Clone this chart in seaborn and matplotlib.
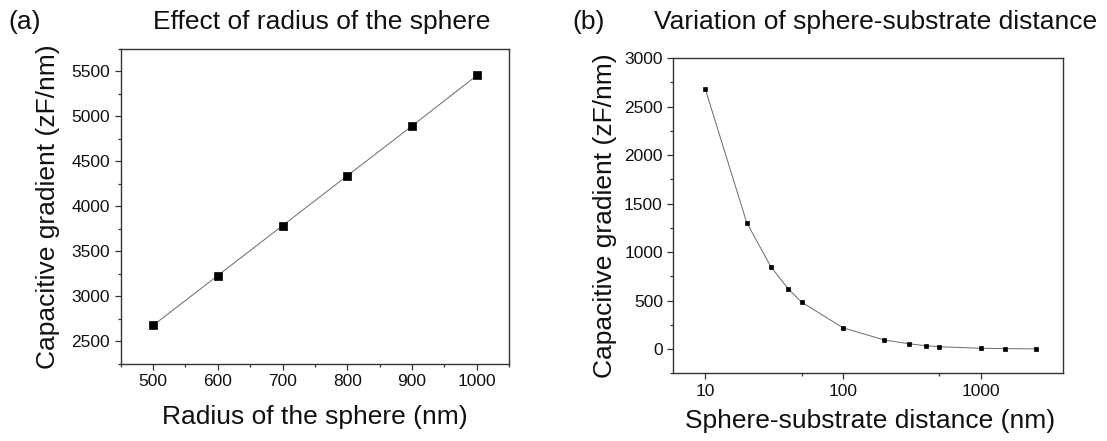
import matplotlib
matplotlib.use("Agg")
import matplotlib.pyplot as plt
from matplotlib.ticker import MultipleLocator, FixedLocator, FuncFormatter, NullFormatter
import seaborn as sns
import pandas as pd

# Panel (a): capacitive gradient versus sphere radius
radius_nm = [500, 600, 700, 800, 900, 1000]
grad_radius = [2678, 3232, 3786, 4340, 4893, 5453]

# Panel (b): capacitive gradient versus sphere-substrate distance
distance_nm = [10, 20, 30, 40, 50, 100, 200, 300, 400, 500, 1000, 1500, 2500]
grad_distance = [2682, 1303, 847, 621, 484, 219, 93, 55, 34, 24, 8, 4, 2]

x_ticks_b = [10, 100, 1000]
x_minor_b = [50, 500]

sns.set_theme(style="ticks")
plt.rcParams["font.family"] = ["Liberation Sans", "DejaVu Sans"]

text_color = "#111111"
spine_color = "#333333"
line_color = "#6a6a6a"
tick_fs = 12.5
label_fs = 19
title_fs = 19

fig = plt.figure(figsize=(11.07, 4.41), dpi=100)
ax_a = fig.add_axes([0.109, 0.1746, 0.351, 0.715])
ax_b = fig.add_axes([0.6082, 0.1535, 0.352, 0.715])

df_a = pd.DataFrame({"radius": radius_nm, "grad": grad_radius})
df_b = pd.DataFrame({"distance": distance_nm, "grad": grad_distance})

sns.lineplot(data=df_a, x="radius", y="grad", ax=ax_a, color=line_color, lw=0.7,
             marker="s", markersize=5.2, markerfacecolor="black",
             markeredgecolor="black", markeredgewidth=0.5)
sns.lineplot(data=df_b, x="distance", y="grad", ax=ax_b, color=line_color, lw=0.7,
             marker="s", markersize=2.8, markerfacecolor="black",
             markeredgecolor="black", markeredgewidth=0.5)

# Axis (a)
ax_a.set_xlim(450, 1050)
ax_a.set_ylim(2250, 5750)
ax_a.xaxis.set_major_locator(MultipleLocator(100))
ax_a.xaxis.set_minor_locator(MultipleLocator(50))
ax_a.yaxis.set_major_locator(MultipleLocator(500))
ax_a.yaxis.set_minor_locator(MultipleLocator(250))

# Axis (b)
ax_b.set_xscale("log")
ax_b.set_xlim(5.86, 3950)
ax_b.set_ylim(-250, 3000)
ax_b.xaxis.set_major_locator(FixedLocator(x_ticks_b))
ax_b.xaxis.set_minor_locator(FixedLocator(x_minor_b))
ax_b.xaxis.set_major_formatter(FuncFormatter(lambda v, p: f"{v:g}"))
ax_b.xaxis.set_minor_formatter(NullFormatter())
ax_b.yaxis.set_major_locator(MultipleLocator(500))
ax_b.yaxis.set_minor_locator(MultipleLocator(250))

for ax in (ax_a, ax_b):
    for s in ax.spines.values():
        s.set_visible(True)
        s.set_color(spine_color)
        s.set_linewidth(1.0)
    ax.tick_params(which="major", direction="out", length=4.5, width=0.9,
                   color=spine_color, labelsize=tick_fs, labelcolor=text_color, pad=3)
    ax.tick_params(which="minor", direction="out", length=2.5, width=0.9,
                   color=spine_color)
    ax.tick_params(top=False, right=False, which="both")

ax_a.set_xlabel("Radius of the sphere (nm)", fontsize=label_fs, va="center", color=text_color)
ax_a.set_ylabel("Capacitive gradient (zF/nm)", fontsize=label_fs, va="center", color=text_color)
ax_a.xaxis.set_label_coords(0.5, -0.168)
ax_a.yaxis.set_label_coords(-0.187, 0.5)

ax_b.set_xlabel("Sphere-substrate distance (nm)", fontsize=label_fs, va="center", color=text_color)
ax_b.set_ylabel("Capacitive gradient (zF/nm)", fontsize=label_fs, va="center", color=text_color)
ax_b.xaxis.set_label_coords(0.505, -0.151)
ax_b.yaxis.set_label_coords(-0.175, 0.5)

fig.text(0.291, 0.951, "Effect of radius of the sphere", fontsize=title_fs,
         ha="center", va="center", color=text_color)
fig.text(0.008, 0.951, "(a)", fontsize=title_fs, ha="left", va="center", color=text_color)
fig.text(0.791, 0.951, "Variation of sphere-substrate distance", fontsize=title_fs,
         ha="center", va="center", color=text_color)
fig.text(0.517, 0.951, "(b)", fontsize=title_fs, ha="left", va="center", color=text_color)

fig.savefig("out.png", dpi=100, facecolor="white")
